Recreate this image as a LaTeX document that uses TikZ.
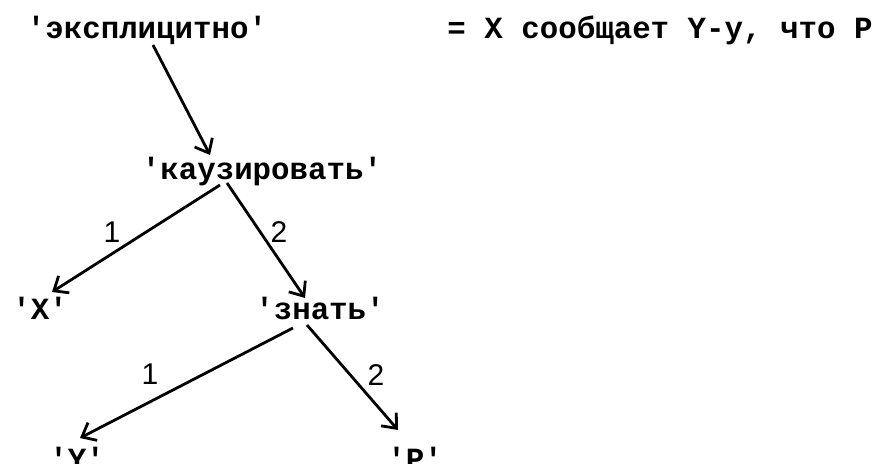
\documentclass[tikz,border=0pt]{standalone}
\usepackage{fontspec}
\setmonofont{Liberation Mono}
\setsansfont{Liberation Sans}
\usetikzlibrary{positioning,arrows.meta}

\begin{document}
\begin{tikzpicture}[
  on grid,
  sem/.style={font=\fontsize{15.4}{18}\selectfont\ttfamily\bfseries, inner sep=0pt},
  num/.style={font=\fontsize{15}{17}\selectfont\sffamily, inner sep=1pt},
  line/.style={-{Straight Barb[length=6pt,width=10pt]}, line width=1.4pt},
]
\useasboundingbox (0,0) rectangle (441.5pt,-232pt);

\node[sem] (expl) at (73.5pt,-15pt) {'эксплицитно'};
\node[sem, right=256.5pt of expl] (gloss) {= X сообщает Y-у, что P};
\node[sem, below right=71pt and 57.5pt of expl] (kauz) {'каузировать'};
\node[sem, below left=68pt and 111pt of kauz] (x) {'X'};
\node[sem, below right=68pt and 29pt of kauz] (znat) {'знать'};
\node[sem, below left=75pt and 121.5pt of znat] (y) {'Y'};
\node[sem, below right=75pt and 47.5pt of znat] (p) {'P'};

\draw[line] ([shift={(3pt,-7.5pt)}]expl.center) -- ([shift={(-26pt,8.5pt)}]kauz.center);
\draw[line] ([shift={(-21pt,-6.5pt)}]kauz.center) -- node[num, pos=.643, above=4pt] {1} ([shift={(6pt,8pt)}]x.center);
\draw[line] ([shift={(-17.5pt,-5.5pt)}]kauz.center) -- node[num, pos=.426, right=3.5pt] {2} ([shift={(-7.5pt,5pt)}]znat.center);
\draw[line] ([shift={(-13.5pt,-10pt)}]znat.center) -- node[num, pos=.671, above=7pt] {1} ([shift={(1.5pt,10pt)}]y.center);
\draw[line] ([shift={(-6.5pt,-8.5pt)}]znat.center) -- node[num, pos=.476, right=7pt] {2} ([shift={(-8.5pt,14pt)}]p.center);
\end{tikzpicture}
\end{document}
